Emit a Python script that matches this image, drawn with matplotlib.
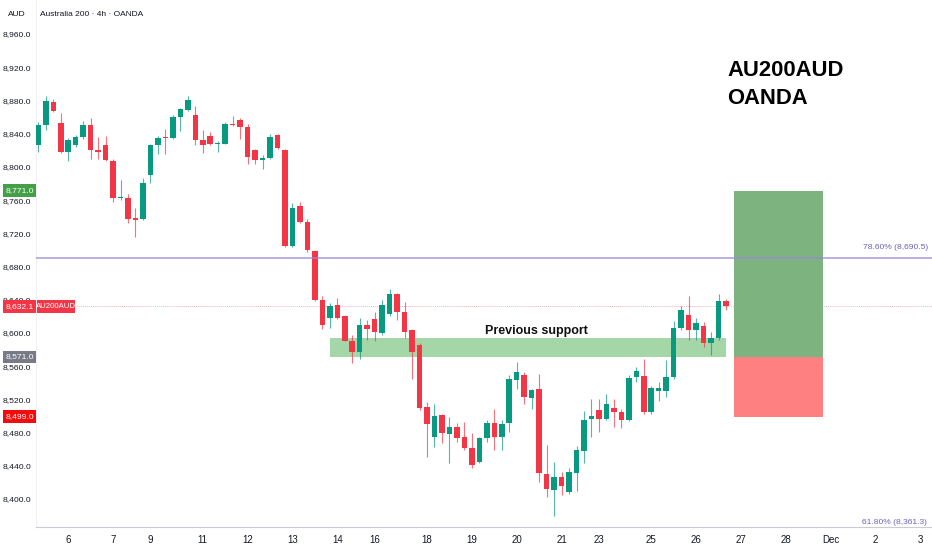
import numpy as np
import matplotlib
matplotlib.use("Agg")
import matplotlib.pyplot as plt
from matplotlib import font_manager
from matplotlib.patches import Rectangle
from matplotlib.transforms import blended_transform_factory

# --- data: 4h candles, Australia 200 ---
opens = [8826, 8850, 8878, 8853, 8818, 8826, 8836, 8850, 8820, 8826,
         8807, 8762, 8762, 8738, 8737, 8790, 8826, 8836, 8835, 8860,
         8869, 8862, 8832, 8837, 8828, 8828, 8852, 8857, 8848, 8820,
         8808, 8811, 8838, 8820, 8705, 8753, 8733, 8699, 8640, 8618,
         8634, 8620, 8590, 8577, 8609, 8617, 8600, 8623, 8647, 8625,
         8603, 8586, 8511, 8475, 8501, 8478, 8487, 8475, 8461, 8445,
         8474, 8491, 8475, 8492, 8543, 8549, 8522, 8532, 8430, 8411,
         8426, 8408, 8431, 8458, 8496, 8507, 8496, 8510, 8505, 8495,
         8547, 8548, 8505, 8530, 8530, 8547, 8606, 8622, 8603, 8608,
         8588, 8594, 8639]
highs = [8854, 8885, 8882, 8865, 8835, 8838, 8855, 8859, 8836, 8837,
         8809, 8784, 8767, 8750, 8786, 8828, 8837, 8846, 8862, 8871,
         8885, 8873, 8844, 8842, 8831, 8854, 8861, 8859, 8851, 8822,
         8814, 8840, 8839, 8821, 8756, 8758, 8737, 8700, 8644, 8636,
         8642, 8622, 8598, 8618, 8616, 8625, 8640, 8653, 8648, 8637,
         8605, 8588, 8517, 8514, 8502, 8499, 8491, 8493, 8480, 8475,
         8495, 8509, 8495, 8549, 8565, 8553, 8533, 8551, 8465, 8445,
         8432, 8437, 8464, 8506, 8520, 8520, 8527, 8520, 8508, 8549,
         8559, 8569, 8536, 8541, 8567, 8614, 8632, 8644, 8618, 8613,
         8601, 8647, 8641]
lows = [8818, 8844, 8866, 8817, 8807, 8824, 8834, 8810, 8810, 8807,
        8758, 8760, 8732, 8716, 8736, 8780, 8815, 8815, 8834, 8843,
        8867, 8826, 8817, 8826, 8818, 8827, 8849, 8834, 8804, 8804,
        8797, 8809, 8822, 8704, 8703, 8732, 8698, 8639, 8605, 8606,
        8617, 8590, 8564, 8569, 8592, 8590, 8598, 8620, 8615, 8594,
        8544, 8507, 8451, 8463, 8467, 8444, 8469, 8459, 8437, 8444,
        8469, 8459, 8459, 8481, 8532, 8515, 8508, 8421, 8402, 8380,
        8405, 8406, 8410, 8443, 8475, 8481, 8495, 8487, 8486, 8494,
        8541, 8502, 8503, 8518, 8523, 8545, 8604, 8591, 8592, 8583,
        8573, 8592, 8628]
closes = [8850, 8879, 8867, 8818, 8832, 8836, 8850, 8820, 8818, 8808,
          8763, 8763, 8737, 8736, 8781, 8826, 8835, 8835, 8860, 8870,
          8881, 8832, 8826, 8828, 8829, 8852, 8850, 8848, 8812, 8808,
          8811, 8836, 8823, 8705, 8750, 8733, 8700, 8640, 8610, 8633,
          8618, 8590, 8577, 8609, 8605, 8601, 8634, 8647, 8625, 8601,
          8577, 8510, 8490, 8500, 8479, 8487, 8473, 8462, 8441, 8473,
          8491, 8475, 8490, 8544, 8553, 8523, 8531, 8431, 8412, 8426,
          8416, 8432, 8459, 8495, 8500, 8496, 8514, 8505, 8495, 8546,
          8554, 8505, 8534, 8534, 8547, 8606, 8628, 8604, 8612, 8588,
          8594, 8639, 8632.1]

day_ticks = [4, 10, 15, 22, 28, 34, 40, 45, 52, 58, 64, 70, 75, 82, 88, 94, 100, 106, 112, 118]
day_labels = ['6', '7', '9', '11', '12', '13', '14', '16', '18', '19', '20', '21',
              '23', '25', '26', '27', '28', 'Dec', '2', '3']
price_ticks = list(range(8400, 8961, 40))

last_price = 8632.1
support_zone = (39.0, 92.0, 8570.6, 8593.5)   # x0, x1, y0, y1
target_price = 8771.0
entry_price = 8571.0
stop_price = 8499.0
position_x = (93.1, 105.0)
fib_786 = 8690.5
fib_618 = 8361.3

# --- fonts ---
names = {f.name for f in font_manager.fontManager.ttflist}
if 'Liberation Sans Narrow' in names:
    FONT, k = 'Liberation Sans Narrow', 1.15
else:
    FONT, k = 'Liberation Sans', 1.0
plt.rcParams['font.family'] = [FONT, 'DejaVu Sans']

GREEN = '#089981'
RED = '#f23645'
TEXT = '#131722'

W, H = 932, 550
fig = plt.figure(figsize=(W / 100, H / 100), dpi=100)
fig.patch.set_facecolor('white')
ax = fig.add_axes([36 / W, 23.3 / H, 896 / W, 526.7 / H])
ax.set_facecolor('white')

x = np.arange(len(opens))
o = np.array(opens, float)
c = np.array(closes, float)
hi = np.array(highs, float)
lo = np.array(lows, float)
up = c >= o
cols = np.where(up, GREEN, RED)

# support zone under the candles
sx0, sx1, sy0, sy1 = support_zone
ax.add_patch(Rectangle((sx0, sy0), sx1 - sx0, sy1 - sy0, facecolor='#a5d6a7',
                       edgecolor='none', zorder=1))

ax.vlines(x, lo, hi, colors=cols, linewidth=0.8, alpha=0.7, zorder=2)
body_lo = np.minimum(o, c)
body_h = np.maximum(np.abs(c - o), 1.3)
ax.bar(x, body_h, bottom=body_lo, width=0.74, color=cols, linewidth=0, zorder=3)

# long position box
px0, px1 = position_x
ax.add_patch(Rectangle((px0, entry_price), px1 - px0, target_price - entry_price,
                       facecolor='#7db37e', edgecolor='none', zorder=4))
ax.add_patch(Rectangle((px0, stop_price), px1 - px0, entry_price - stop_price,
                       facecolor='#ff8080', edgecolor='none', zorder=4))

# fib level + last price line
ax.axhline(fib_786, color='#9a87d8', linewidth=1.1, alpha=0.85, zorder=5)
ax.axhline(last_price, color=RED, linewidth=0.7, alpha=0.35, linestyle=(0, (1, 1)), zorder=1)

ax.text(66.7, 8602, 'Previous support', ha='center', va='center',
        fontsize=9.0, fontweight='bold', color='#111111', zorder=6)

ax.set_xlim(-0.31, 119.56)
ax.set_ylim(8366.7, 9000.9)

ax.set_xticks(day_ticks)
ax.set_xticklabels(day_labels)
ax.set_yticks(price_ticks)
ax.set_yticklabels([f'{p:,.1f}' for p in price_ticks])
ax.tick_params(axis='x', length=0, pad=6, labelsize=7.0 * k, labelcolor=TEXT)
ax.tick_params(axis='y', length=0, pad=3.6, labelsize=6.1 * k, labelcolor=TEXT)
for s in ['top', 'right']:
    ax.spines[s].set_visible(False)
ax.spines['bottom'].set_color('#c9ccd3')
ax.spines['left'].set_color('#f0f0f3')

# fib labels on the right
ax.text(1 - 4 / 896, fib_786 + 12, '78.60% (8,690.5)',
        transform=blended_transform_factory(ax.transAxes, ax.transData),
        ha='right', va='center', fontsize=6.1 * k, color='#6f5fc0', zorder=6)
ax.text(1 - 5 / 896, 4.5 / 526.7, '61.80% (8,361.3)', transform=ax.transAxes,
        ha='right', va='center', fontsize=6.1 * k, color='#6f5fc0', zorder=6)

# left price-scale badges
bt = blended_transform_factory(fig.transFigure, ax.transData)
bh = 15.5


def badge(x0_px, x1_px, price, text, color, size=6.1):
    ax.add_patch(Rectangle((x0_px / W, price - bh / 2), (x1_px - x0_px) / W, bh,
                           transform=bt, facecolor=color, edgecolor='none',
                           clip_on=False, zorder=10))
    ax.text((x0_px + x1_px) / 2 / W, price, text, transform=bt, ha='center', va='center',
            fontsize=size * k, color='white', clip_on=False, zorder=11)


badge(3, 36, target_price, '8,771.0', '#43a047')
badge(3, 36, last_price, '8,632.1', RED)
badge(37, 75, last_price, 'AU200AUD', RED, size=5.6)
badge(3, 36, entry_price, '8,571.0', '#787b86')
badge(3, 36, stop_price, '8,499.0', '#f20d0d')

# header
fig.text(8 / W, 1 - 14 / H, 'AUD', ha='left', va='center', fontsize=6.0 * k, color=TEXT)
fig.text(40 / W, 1 - 14 / H, 'Australia 200 · 4h · OANDA', ha='left', va='center',
         fontsize=6.0 * k, color=TEXT)

# symbol watermark
fig.text(727 / W, 1 - 76 / H, 'AU200AUD', ha='left', va='baseline', fontsize=15.8,
         fontweight='bold', color='#000000')
fig.text(727 / W, 1 - 104 / H, 'OANDA', ha='left', va='baseline', fontsize=15.8,
         fontweight='bold', color='#000000')

fig.savefig('out.png', dpi=100, facecolor='white')
